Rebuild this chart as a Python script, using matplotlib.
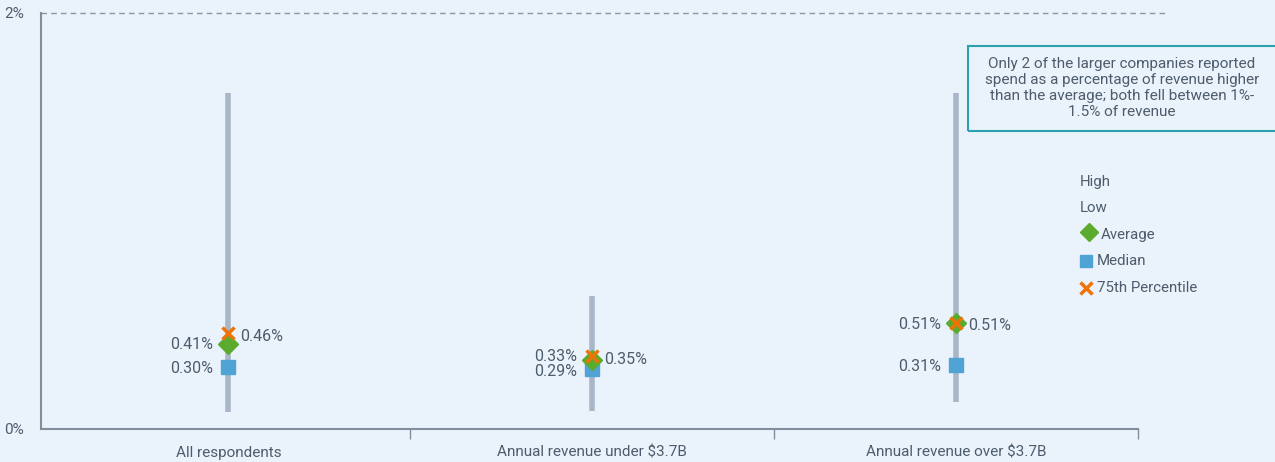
import numpy as np
import matplotlib.pyplot as plt
from matplotlib.patches import Rectangle
from matplotlib.lines import Line2D

plt.rcParams['font.family'] = ['Roboto', 'DejaVu Sans']

categories = ["All respondents", "Annual revenue under $3.7B", "Annual revenue over $3.7B"]
high = [1.615, 0.64, 1.615]
low = [0.08, 0.085, 0.13]
average = [0.41, 0.33, 0.51]
median = [0.30, 0.29, 0.31]
p75 = [0.46, 0.35, 0.51]

bg = "#eaf3fc"
txt = "#4d5b6b"
spine = "#7f8d9c"
rng_col = "#a8b6c7"
green = "#5aab2e"
blue = "#4fa3d5"
orange = "#f07306"

W, H = 1275, 462
fig = plt.figure(figsize=(W / 100, H / 100), dpi=100, facecolor=bg)
ax = fig.add_axes([41 / W, 33 / H, 1097 / W, 416 / H], facecolor=bg)

x = np.arange(len(categories))
ax.vlines(x, low, high, color=rng_col, lw=4, zorder=2)
ax.plot(x, median, 's', color=blue, ms=10, zorder=3, ls='none')
ax.plot(x, average, 'D', color=green, ms=10, zorder=4, ls='none')
ax.plot(x, p75, 'x', color=orange, ms=9, mew=2.5, zorder=5, ls='none')

# value labels
fs = 11
vfs = 11.5
for i in range(len(categories)):
    dya = [-1, 4, -2][i]
    dym = [-2, -3, -2][i]
    ax.annotate(f"{average[i]:.2f}%", (x[i], average[i]), xytext=(-15, dya),
                textcoords='offset pixels', ha='right', va='center', color=txt, fontsize=vfs)
    ax.annotate(f"{median[i]:.2f}%", (x[i], median[i]), xytext=(-15, dym),
                textcoords='offset pixels', ha='right', va='center', color=txt, fontsize=vfs)
    ax.annotate(f"{p75[i]:.2f}%", (x[i], p75[i]), xytext=(12, -3),
                textcoords='offset pixels', ha='left', va='center', color=txt, fontsize=vfs)

ax.set_xlim(-0.515, 2.5)
ax.set_ylim(0, 2)
ax.set_yticks([0, 2])
ax.set_yticklabels(["0%", "2%"])
ax.set_xticks(x)
ax.set_xticklabels(categories)
ax.set_xticks([0.5, 1.5, 2.5], minor=True)
ax.tick_params(axis='x', which='major', length=0, pad=12, labelsize=fs, labelcolor=txt)
ax.tick_params(axis='x', which='minor', length=7, color=spine, width=1)
ax.tick_params(axis='y', length=0, pad=12, labelsize=fs, labelcolor=txt)

for s in ['top', 'right']:
    ax.spines[s].set_visible(False)
for s in ['left', 'bottom']:
    ax.spines[s].set_color(spine)
    ax.spines[s].set_linewidth(1.5)

ax.axhline(2, xmin=0, xmax=1124 / 1097, color="#8a96a3", lw=1, ls=(0, (4, 3)), clip_on=False)

# note box
fig.patches.append(Rectangle((968 / W, (H - 131) / H), 320 / W, 85 / H, transform=fig.transFigure,
                             facecolor='none', edgecolor="#2aa0b0", lw=1.5))
fig.text(1122 / W, (H - 88) / H,
         "Only 2 of the larger companies reported\nspend as a percentage of revenue higher\n"
         "than the average; both fell between 1%-\n1.5% of revenue",
         ha='center', va='center', fontsize=11, color=txt, linespacing=1.2)

# legend
lfs = 10.8
lx = 1080 / W
fig.text(lx, (H - 182) / H, "High", fontsize=lfs, color=txt, va='center')
fig.text(lx, (H - 208) / H, "Low", fontsize=lfs, color=txt, va='center')
fig.add_artist(Line2D([1089 / W], [(H - 232) / H], marker='D', color=green, ms=9, transform=fig.transFigure))
fig.text(1101 / W, (H - 235) / H, "Average", fontsize=lfs, color=txt, va='center')
fig.add_artist(Line2D([1086 / W], [(H - 261) / H], marker='s', color=blue, ms=9, transform=fig.transFigure))
fig.text(1097 / W, (H - 261) / H, "Median", fontsize=lfs, color=txt, va='center')
fig.add_artist(Line2D([1086 / W], [(H - 288) / H], marker='x', color=orange, ms=8, mew=2.5, transform=fig.transFigure))
fig.text(1097 / W, (H - 288) / H, "75th Percentile", fontsize=lfs, color=txt, va='center')

plt.savefig("out.png", dpi=100, facecolor=bg)
